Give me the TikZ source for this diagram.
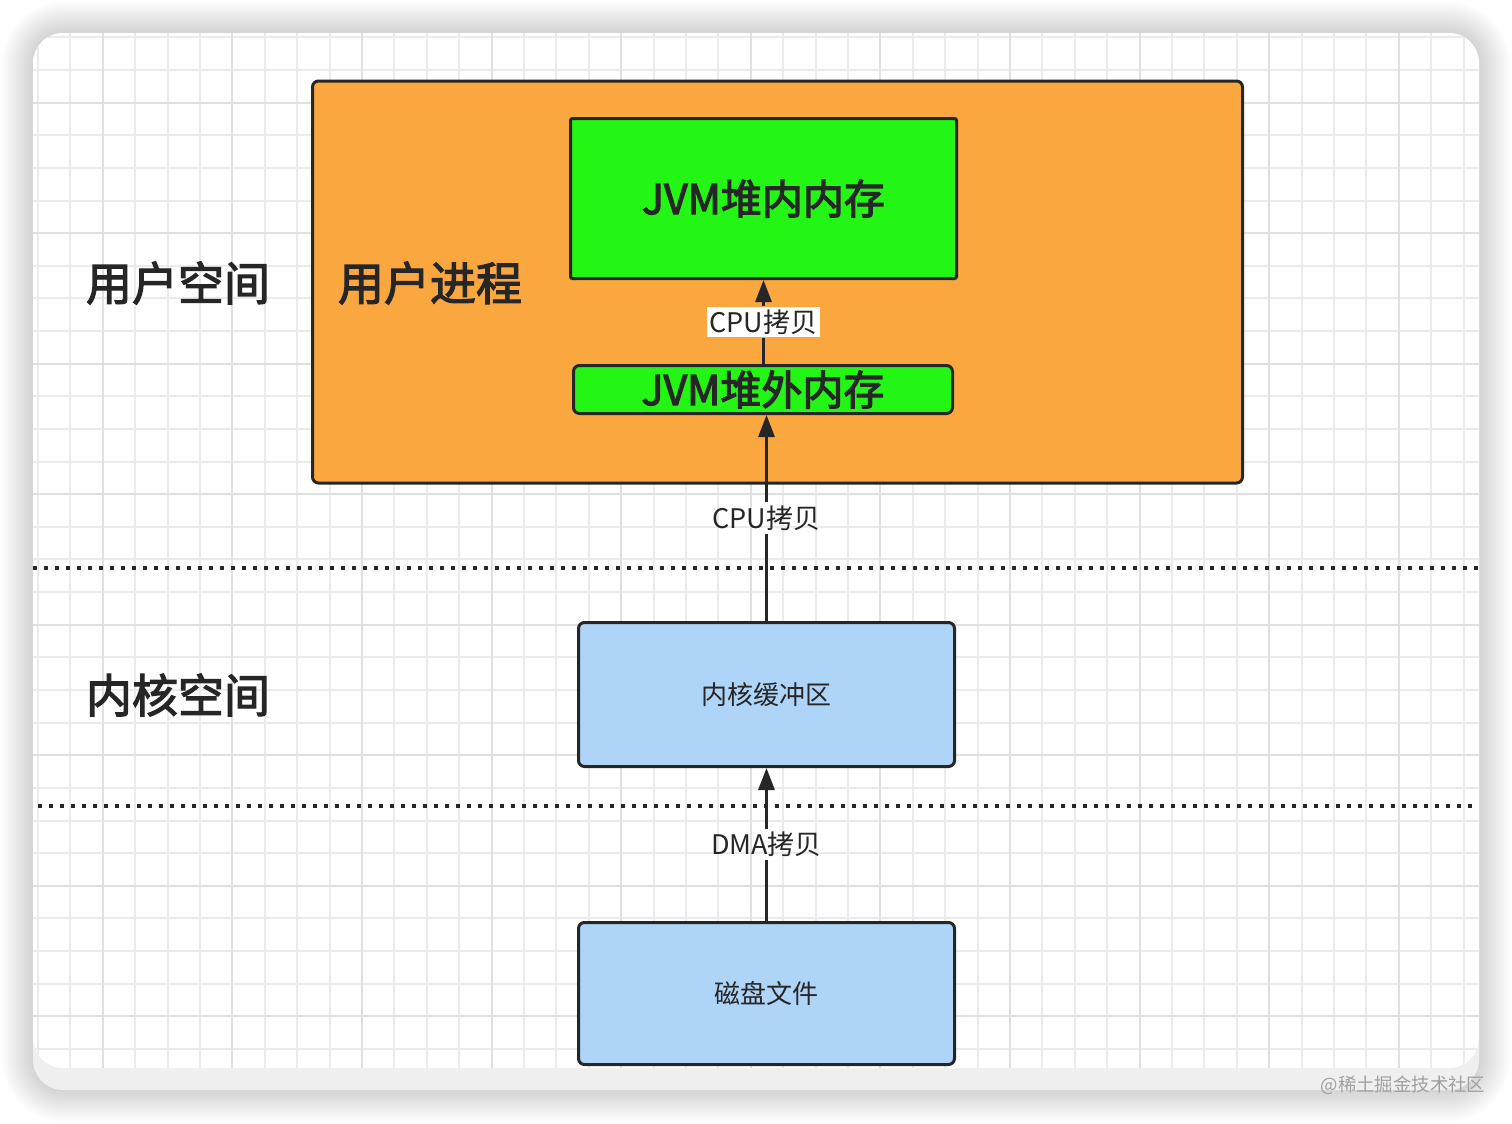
\documentclass[tikz,border=0pt]{standalone}
\usepackage{fontspec}
\setmainfont{Noto Sans CJK SC}
\newcommand\medweight[1]{\special{pdf:literal direct 2 Tr 0.6 w}#1\special{pdf:literal direct 0 Tr}}
\usetikzlibrary{arrows.meta}
\definecolor{ink}{HTML}{262626}
\definecolor{orangefill}{HTML}{FBA740}
\definecolor{greenfill}{HTML}{23F614}
\definecolor{bluefill}{HTML}{AED4F8}
\definecolor{gridminor}{HTML}{EBEBEB}
\definecolor{gridmajor}{HTML}{E0E0E0}
\definecolor{bandgrey}{HTML}{EFEFEF}
\definecolor{markgrey}{HTML}{A0A0A0}
\tikzset{
  box/.style={draw=ink, line width=1.5pt, rounded corners=3pt, text=ink, inner sep=0pt},
  bigtitle/.style={text=ink, font=\fontsize{23}{27}\selectfont},
  jvmtext/.style={font=\fontsize{20.5}{24}\selectfont},
  smalltext/.style={font=\fontsize{13}{16}\selectfont},
  edgelabel/.style={text=ink, inner sep=1.5pt, font=\fontsize{13.5}{16}\selectfont},
  flow/.style={draw=ink, line width=1.5pt, -{Triangle[length=11pt,width=8pt]}},
  plainflow/.style={draw=ink, line width=1.5pt},
  divider/.style={draw=ink, line width=2pt, dash pattern=on 2pt off 3.5pt}
}
\begin{document}
\begin{tikzpicture}[x=0.5pt,y=-0.5pt]
\useasboundingbox (0,0) rectangle (1512,1124);
\fill[white] (0,0) rectangle (1512,1124);
% soft shadow around the card
\foreach \d in {1,...,14}{
  \pgfmathsetmacro\rr{15+1.1*\d}
  \fill[black, opacity=0.011, rounded corners=\rr pt]
    ({33-2.2*\d},{33-2.2*\d}) rectangle ({1479+2.2*\d},{1090+2.2*\d});
}
% card
\fill[bandgrey, rounded corners=15pt] (33,33) rectangle (1479,1090);
\fill[white, rounded corners=15pt] (33,33) rectangle (1479,1068);
\begin{scope}
  \clip[rounded corners=15pt] (33,33) rectangle (1479,1068);
  \foreach \i in {0,...,44}{
    \draw[gridminor, line width=1pt] ({38+\i*32.4},33) -- ({38+\i*32.4},1068);
  }
  \foreach \i in {0,...,31}{
    \draw[gridminor, line width=1pt] (33,{37.4+\i*32.63}) -- (1479,{37.4+\i*32.63});
  }
  \foreach \i in {2,6,...,42}{
    \draw[gridmajor, line width=1pt] ({38+\i*32.4},33) -- ({38+\i*32.4},1068);
  }
  \foreach \i in {2,6,...,30}{
    \draw[gridmajor, line width=1pt] (33,{37.4+\i*32.63}) -- (1479,{37.4+\i*32.63});
  }
\end{scope}

% dividers
\coordinate (d1l) at (33,568);
\coordinate (d1r) at (1479,568);
\coordinate (d2l) at (38,806);
\coordinate (d2r) at (1476,806);
\draw[divider] (d1l) -- (d1r);
\draw[divider] (d2l) -- (d2r);

% user process
\node[box, fill=orangefill, minimum width=465pt, minimum height=201pt] (proc) at (777.5,282) {};
\node[box, fill=greenfill, rounded corners=1pt, minimum width=193pt, minimum height=80pt, jvmtext] (heap) at (763.5,198.5) {\medweight{JVM堆内内存}};
\node[box, fill=greenfill, minimum width=189.5pt, minimum height=24pt, jvmtext] (offheap) at (763,389.5) {\medweight{JVM堆外内存}};

% kernel
\node[box, fill=bluefill, minimum width=188pt, minimum height=72pt, smalltext] (kbuf) at (766.5,694.5) {内核缓冲区};
\node[box, fill=bluefill, minimum width=188pt, minimum height=71pt, smalltext] (disk) at (766.5,993.5) {磁盘文件};

% titles
\node[bigtitle] (us) at (178,283) {\medweight{用户空间}};
\node[bigtitle] (up) at (430,283) {\medweight{用户进程}};
\node[bigtitle] (ks) at (178,695) {\medweight{内核空间}};

% connector labels
\path (offheap.north -| heap.south) -- node[edgelabel, fill=white, pos=0.5] (l1) {CPU拷贝} (heap.south);
\path (kbuf.north) -- node[edgelabel, pos=0.5] (l2) {CPU拷贝} (kbuf.north |- offheap.south);
\path (disk.north) -- node[edgelabel, pos=0.5] (l3) {DMA拷贝} (kbuf.south);

% connectors, broken around their labels
\draw[plainflow] (offheap.north -| heap.south) -- (l1.south -| heap.south);
\draw[flow] (l1.north -| heap.south) -- (heap.south);
\draw[plainflow] (kbuf.north) -- (l2.south -| kbuf.north);
\draw[flow] (l2.north -| kbuf.north) -- (kbuf.north |- offheap.south);
\draw[plainflow] (disk.north) -- (l3.south -| disk.north);
\draw[flow] (l3.north -| disk.north) -- (kbuf.south);

% watermark
\node[text=markgrey, font=\fontsize{9.2}{11}\selectfont] (wm) at (1403,1085) {@稀土掘金技术社区};
\end{tikzpicture}
\end{document}
